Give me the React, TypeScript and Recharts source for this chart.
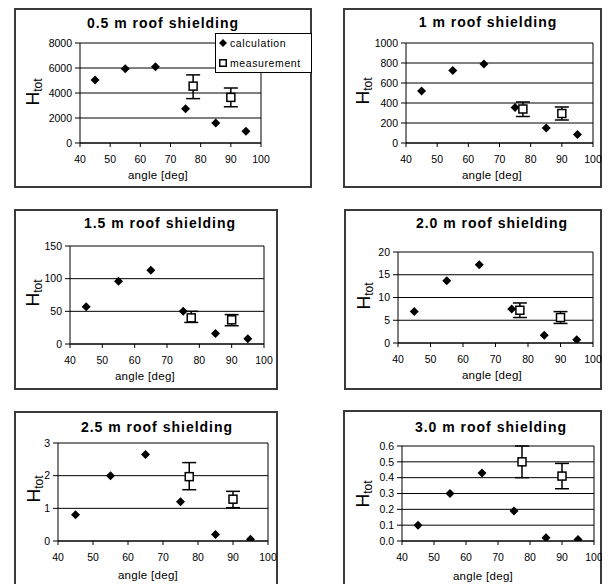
import React from 'react';
import { ScatterChart, Scatter, XAxis, YAxis, CartesianGrid, ErrorBar, ReferenceLine } from 'recharts';

// angles (deg) where the points sit
const calcAngles = [45, 55, 65, 75, 85, 95];
const measAngles = [77.5, 90];
const xTicks = [40, 50, 60, 70, 80, 90, 100];

// 0.5 m
const calc05 = [5050, 5950, 6100, 2750, 1600, 950];
const meas05 = [4550, 3650];
const low05 = [3550, 2900];
const high05 = [5450, 4400];
const ticks05 = [0, 2000, 4000, 6000, 8000];

// 1 m
const calc10 = [520, 725, 790, 355, 150, 85];
const meas10 = [340, 295];
const low10 = [265, 230];
const high10 = [410, 360];
const ticks10 = [0, 200, 400, 600, 800, 1000];

// 1.5 m
const calc15 = [57, 96, 113, 50, 16, 8];
const meas15 = [40, 37];
const low15 = [33, 28];
const high15 = [50, 45];
const ticks15 = [0, 50, 100, 150];

// 2.0 m
const calc20 = [6.9, 13.7, 17.2, 7.5, 1.7, 0.7];
const meas20 = [7.2, 5.6];
const low20 = [5.6, 4.3];
const high20 = [8.8, 6.9];
const ticks20 = [0, 5, 10, 15, 20];

// 2.5 m
const calc25 = [0.8, 2.0, 2.65, 1.2, 0.2, 0.05];
const meas25 = [1.97, 1.28];
const low25 = [1.57, 1.02];
const high25 = [2.4, 1.52];
const ticks25 = [0, 1, 2, 3];

// 3.0 m
const calc30 = [0.1, 0.3, 0.43, 0.19, 0.02, 0.01];
const meas30 = [0.5, 0.41];
const low30 = [0.4, 0.33];
const high30 = [0.6, 0.49];
const ticks30 = [0, 0.1, 0.2, 0.3, 0.4, 0.5, 0.6];

const FONT = '"Liberation Sans", Arial, sans-serif';

const panels = [
  { title: '0.5 m roof shielding', calc: calc05, meas: meas05, low: low05, high: high05, ticks: ticks05, dec: 0,
    box: [14, 8, 298, 180], plot: [80, 43, 261, 143], titleAt: [163, 23], yLab: [32, 92], xLab: [158, 175], legend: true },
  { title: '1 m roof shielding', calc: calc10, meas: meas10, low: low10, high: high10, ticks: ticks10, dec: 0,
    box: [343, 8, 259, 180], plot: [406, 43, 593, 143], titleAt: [488, 22], yLab: [362, 91], xLab: [492, 175] },
  { title: '1.5 m roof shielding', calc: calc15, meas: meas15, low: low15, high: high15, ticks: ticks15, dec: 0,
    box: [14, 209, 264, 181], plot: [70, 246, 264, 344], titleAt: [160, 223], yLab: [32, 293], xLab: [145, 376] },
  { title: '2.0 m roof shielding', calc: calc20, meas: meas20, low: low20, high: high20, ticks: ticks20, dec: 0,
    box: [344, 209, 258, 181], plot: [398, 252, 593, 343], titleAt: [492, 223], yLab: [363, 296], xLab: [492, 375] },
  { title: '2.5 m roof shielding', calc: calc25, meas: meas25, low: low25, high: high25, ticks: ticks25, dec: 0,
    box: [14, 411, 264, 190], plot: [58, 443, 268, 541], titleAt: [157, 427], yLab: [33, 489], xLab: [148, 575] },
  { title: '3.0 m roof shielding', calc: calc30, meas: meas30, low: low30, high: high30, ticks: ticks30, dec: 1,
    box: [343, 410, 259, 190], plot: [402, 446, 594, 541], titleAt: [491, 427], yLab: [362, 494], xLab: [483, 576] },
];

const Diamond = (p: any) => {
  const { cx, cy } = p;
  const r = 4.5;
  return <polygon points={`${cx},${cy - r} ${cx + r},${cy} ${cx},${cy + r} ${cx - r},${cy}`} fill="#000" />;
};

const Square = (p: any) => {
  const { cx, cy } = p;
  return <rect x={cx - 4} y={cy - 4} width={8} height={8} fill="#fff" stroke="#000" strokeWidth={1.5} />;
};

function Panel({ cfg }: { cfg: any }) {
  const [bx, by, bw, bh] = cfg.box;
  const [pl, pt, pr, pb] = cfg.plot;
  const calcData = calcAngles.map((a, i) => ({ x: a, y: cfg.calc[i] }));
  const measData = measAngles.map((a, i) => ({
    x: a,
    y: cfg.meas[i],
    err: [cfg.meas[i] - cfg.low[i], cfg.high[i] - cfg.meas[i]],
  }));
  const yMax = cfg.ticks[cfg.ticks.length - 1];
  const tickStyle = { fontSize: 10.5, fill: '#000', fontFamily: FONT };

  return (
    <>
      <div style={{ position: 'absolute', left: bx, top: by, width: bw, height: bh, border: '2px solid #3a3a3a', boxSizing: 'border-box', background: '#fff' }} />
      <div style={{ position: 'absolute', left: bx, top: by }}>
        <ScatterChart width={bw} height={bh} margin={{ top: pt - by, right: bx + bw - pr, bottom: 0, left: 0 }} style={{ fontFamily: FONT }}>
          <CartesianGrid horizontal vertical={false} stroke="#000" />
          <XAxis type="number" dataKey="x" domain={[40, 100]} ticks={xTicks} interval={0} height={by + bh - pb}
            tick={tickStyle} tickSize={4} tickMargin={9} axisLine={{ stroke: '#000' }} tickLine={{ stroke: '#000' }} />
          <YAxis type="number" dataKey="y" domain={[0, yMax]} ticks={cfg.ticks} interval={0} width={pl - bx} allowDataOverflow
            tick={tickStyle} tickSize={5} tickMargin={3} axisLine={{ stroke: '#000' }} tickLine={{ stroke: '#000' }}
            tickFormatter={(v: number) => v.toFixed(cfg.dec)} />
          <ReferenceLine x={100} stroke="#000" />
          <Scatter data={calcData} shape={Diamond} isAnimationActive={false} />
          <Scatter data={measData} shape={Square} isAnimationActive={false}>
            <ErrorBar dataKey="err" direction="y" width={7} stroke="#000" strokeWidth={1.5} />
          </Scatter>
        </ScatterChart>
      </div>
      <div style={{ position: 'absolute', left: cfg.titleAt[0], top: cfg.titleAt[1], transform: 'translate(-50%, -50%)', whiteSpace: 'nowrap',
        fontFamily: FONT, fontWeight: 'bold', fontSize: 14, letterSpacing: 1 }}>
        {cfg.title}
      </div>
      <div style={{ position: 'absolute', left: cfg.yLab[0], top: cfg.yLab[1], transform: 'translate(-50%, -50%) rotate(-90deg)', whiteSpace: 'nowrap',
        fontFamily: FONT, lineHeight: 1 }}>
        <span style={{ fontSize: 19 }}>H</span>
        <span style={{ fontSize: 12, position: 'relative', top: 3 }}>tot</span>
      </div>
      <div style={{ position: 'absolute', left: cfg.xLab[0], top: cfg.xLab[1], transform: 'translate(-50%, -50%)', whiteSpace: 'nowrap',
        fontFamily: FONT, fontSize: 11.5, letterSpacing: 0.3 }}>
        angle [deg]
      </div>
      {cfg.legend && (
        <div style={{ position: 'absolute', left: 215, top: 33, width: 97, height: 40, border: '1px solid #000', boxSizing: 'border-box',
          background: '#fff', fontFamily: FONT, fontSize: 10.5, letterSpacing: 0.6 }}>
          <div style={{ position: 'absolute', left: 3, top: 3, whiteSpace: 'nowrap', display: 'flex', alignItems: 'center' }}>
            <svg width={8} height={8} style={{ marginRight: 3 }}><polygon points="4,0 8,4 4,8 0,4" fill="#000" /></svg>
            calculation
          </div>
          <div style={{ position: 'absolute', left: 3, top: 23, whiteSpace: 'nowrap', display: 'flex', alignItems: 'center' }}>
            <svg width={8} height={8} style={{ marginRight: 3 }}><rect x={0.75} y={0.75} width={6.5} height={6.5} fill="#fff" stroke="#000" strokeWidth={1.5} /></svg>
            measurement
          </div>
        </div>
      )}
    </>
  );
}

export default function App() {
  return (
    <div style={{ position: 'absolute', left: 0, top: 0, width: 608, height: 584, overflow: 'hidden', background: '#fff' }}>
      {panels.map((p) => (
        <Panel key={p.title} cfg={p} />
      ))}
    </div>
  );
}
